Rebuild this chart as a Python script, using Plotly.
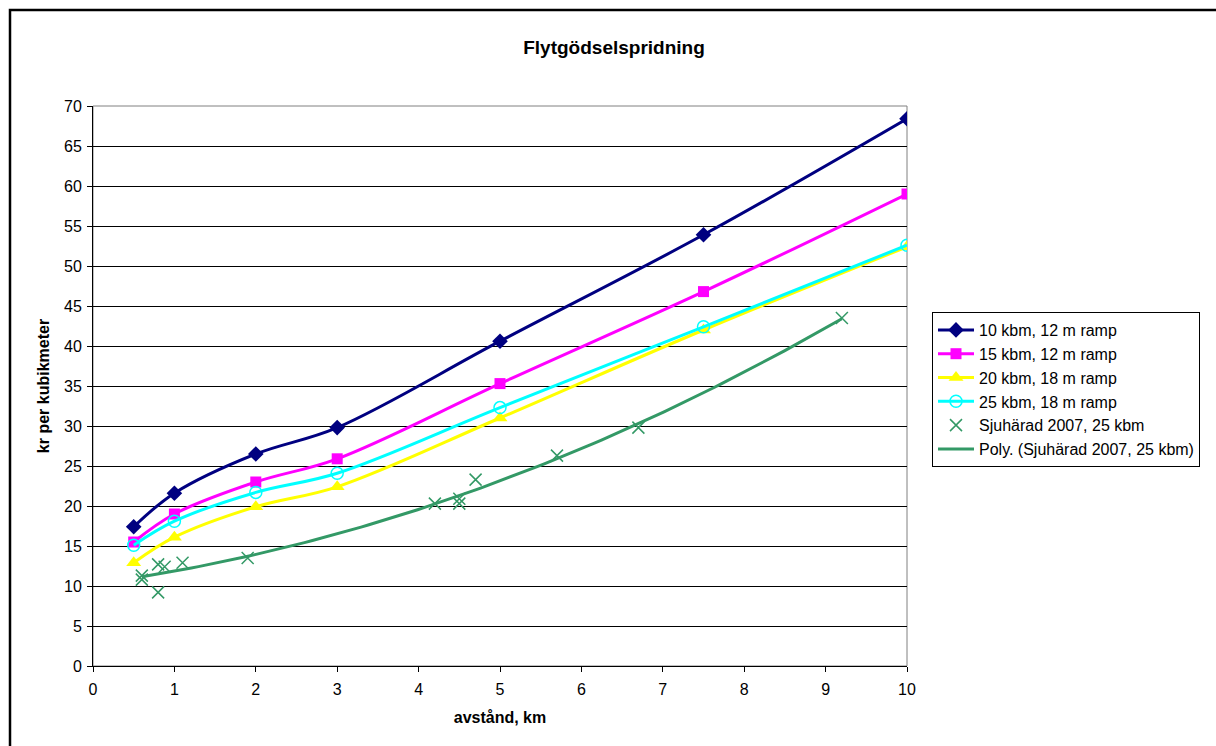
import numpy as np
import plotly.graph_objects as go

x_series = [0.5, 1, 2, 3, 5, 7.5, 10]
s10_12 = [17.4, 21.6, 26.5, 29.8, 40.6, 53.9, 68.4]
s15_12 = [15.5, 19.0, 23.0, 25.9, 35.3, 46.8, 59.0]
s20_18 = [12.9, 16.1, 19.9, 22.4, 31.0, 42.0, 52.4]
s25_18 = [15.1, 18.1, 21.7, 24.1, 32.3, 42.4, 52.6]

sjx = [0.6, 0.6, 0.8, 0.8, 0.88, 1.1, 1.9, 4.2, 4.5, 4.5, 4.7, 5.7, 6.7, 9.2]
sjy = [11.3, 10.8, 12.7, 9.2, 12.4, 12.9, 13.5, 20.3, 20.9, 20.3, 23.3, 26.3, 29.8, 43.5]

names = ["10 kbm, 12 m ramp", "15 kbm, 12 m ramp", "20 kbm, 18 m ramp", "25 kbm, 18 m ramp",
         "Sjuhärad 2007, 25 kbm", "Poly. (Sjuhärad 2007, 25 kbm)"]

FONT = "Liberation Sans, Arial, sans-serif"

fig = go.Figure()
fig.add_trace(go.Scatter(x=x_series, y=s10_12, name=names[0], mode="lines+markers",
                         line=dict(color="#000080", width=3, shape="spline"),
                         marker=dict(symbol="diamond", size=12, color="#000080")))
fig.add_trace(go.Scatter(x=x_series, y=s15_12, name=names[1], mode="lines+markers",
                         line=dict(color="#FF00FF", width=3, shape="spline"),
                         marker=dict(symbol="square", size=11, color="#FF00FF")))
fig.add_trace(go.Scatter(x=x_series, y=s20_18, name=names[2], mode="lines+markers",
                         line=dict(color="#FFFF00", width=3, shape="spline"),
                         marker=dict(symbol="triangle-up", size=13, color="#FFFF00")))
fig.add_trace(go.Scatter(x=x_series, y=s25_18, name=names[3], mode="lines+markers",
                         line=dict(color="#00FFFF", width=3, shape="spline"),
                         marker=dict(symbol="circle-open", size=12, color="#00FFFF", line=dict(width=1.5))))
fig.add_trace(go.Scatter(x=sjx, y=sjy, name=names[4], mode="markers",
                         marker=dict(symbol="x-thin-open", size=12, color="#339966", line=dict(width=1.5, color="#339966"))))

coef = np.polyfit(sjx, sjy, 2)
tx = np.linspace(min(sjx), max(sjx), 100)
fig.add_trace(go.Scatter(x=tx, y=np.polyval(coef, tx), name=names[5], mode="lines",
                         line=dict(color="#339966", width=3)))

fig.update_layout(
    width=1216, height=746,
    margin=dict(l=93, r=309, t=106, b=80),
    paper_bgcolor="white", plot_bgcolor="white",
    font=dict(family=FONT, size=16, color="black"),
    title=dict(text="<b>Flytgödselspridning</b>", x=(614 - 93) / 814, xref="paper", xanchor="center",
               y=1 - 47 / 746, yanchor="middle", font=dict(size=19)),
    xaxis=dict(range=[0, 10], dtick=1, tick0=0, showgrid=False, showline=True, linecolor="black",
               linewidth=1, ticks="outside", ticklen=5, tickcolor="black", zeroline=False,
               tickfont=dict(size=16), ticklabelstandoff=4,
               title=dict(text="<b>avstånd, km</b>", standoff=14, font=dict(size=16))),
    yaxis=dict(range=[0, 70], dtick=5, tick0=0, showgrid=True, gridcolor="black", gridwidth=1,
               showline=True, linecolor="black", linewidth=1, ticks="outside", ticklen=5,
               tickcolor="black", zeroline=False, tickfont=dict(size=16), ticklabelstandoff=2,
               title=dict(text="<b>kr per kubikmeter</b>", standoff=10, font=dict(size=16))),
    legend=dict(x=(932 - 93) / 814, y=(666 - 312) / 560, xanchor="left", yanchor="top",
                bordercolor="black", borderwidth=1, bgcolor="white", font=dict(size=16),
                tracegroupgap=0, itemwidth=36),
    showlegend=True,
)

# plot area gray top/right frame
fig.add_shape(type="rect", xref="paper", yref="paper", x0=0, y0=0, x1=1, y1=1,
              line=dict(color="#808080", width=1), layer="below")
# outer chart border
fig.add_shape(type="rect", xref="paper", yref="paper",
              x0=(10 - 93) / 814, x1=(1230 - 93) / 814, y0=(666 - 760) / 560, y1=(666 - 10) / 560,
              line=dict(color="black", width=2.5))

fig.write_html("out.html")
